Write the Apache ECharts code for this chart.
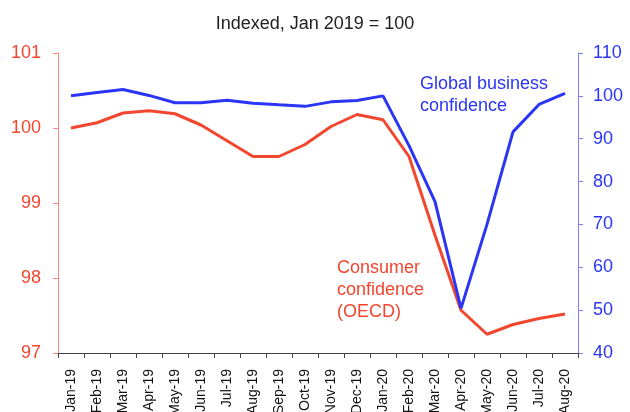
<!DOCTYPE html>
<html>
<head>
<meta charset="utf-8">
<script src="https://cdn.jsdelivr.net/npm/echarts@6/dist/echarts.min.js"></script>
<style>
  html, body { margin: 0; padding: 0; background: #fff; }
  #chart { width: 630px; height: 412px; }
</style>
</head>
<body>
<div id="chart"></div>
<script>
const months = ["Jan-19", "Feb-19", "Mar-19", "Apr-19", "May-19", "Jun-19", "Jul-19", "Aug-19", "Sep-19", "Oct-19",
  "Nov-19", "Dec-19", "Jan-20", "Feb-20", "Mar-20", "Apr-20", "May-20", "Jun-20", "Jul-20", "Aug-20"];
// consumer confidence (OECD), left axis
const consumer = [100.0, 100.07, 100.2, 100.23, 100.19, 100.04, 99.83, 99.62, 99.62, 99.78,
  100.02, 100.18, 100.11, 99.62, 98.57, 97.57, 97.25, 97.38, 97.46, 97.52];
// global business confidence, right axis
const business = [100.0, 100.8, 101.5, 100.1, 98.4, 98.4, 99.0, 98.3, 97.9, 97.55,
  98.6, 98.9, 100.0, 88.4, 75.3, 50.4, 70.0, 91.6, 98.0, 100.6];

const RED = "#f2462f";
const BLUE = "#2a35f5";
const FONT = "Liberation Sans, Arial, sans-serif";

const chart = echarts.init(document.getElementById("chart"));
const option = {
  animation: false,
  title: {
    text: "Indexed, Jan 2019 = 100",
    left: "center",
    top: 10,
    textStyle: { fontFamily: FONT, fontSize: 18, fontWeight: "normal", color: "#222" },
  },
  grid: { left: 58, right: 52, top: 53, bottom: 59, containLabel: false, outerBoundsMode: "none" },
  xAxis: {
    type: "category",
    data: months,
    boundaryGap: true,
    axisLine: { lineStyle: { color: "#444", width: 1 } },
    axisTick: { show: true, alignWithLabel: false, length: 5, lineStyle: { color: "#444" } },
    axisLabel: {
      rotate: 90,
      interval: 0,
      fontFamily: FONT,
      fontSize: 14,
      color: "#111",
      margin: 16,
    },
  },
  yAxis: [
    {
      type: "value",
      min: 97,
      max: 101,
      interval: 1,
      position: "left",
      splitLine: { show: false },
      axisLine: { show: true, lineStyle: { color: "#f98a7c", width: 1 } },
      axisTick: { show: true, length: 5, lineStyle: { color: "#f98a7c" } },
      axisLabel: { fontFamily: FONT, fontSize: 18, color: RED, margin: 17 },
    },
    {
      type: "value",
      min: 40,
      max: 110,
      interval: 10,
      position: "right",
      splitLine: { show: false },
      axisLine: { show: true, lineStyle: { color: "#7a80f8", width: 1 } },
      axisTick: { show: true, length: 5, lineStyle: { color: "#7a80f8" } },
      axisLabel: { fontFamily: FONT, fontSize: 18, color: BLUE, margin: 15 },
    },
  ],
  series: [
    {
      name: "Consumer confidence (OECD)",
      type: "line",
      yAxisIndex: 0,
      data: consumer,
      symbol: "none",
      lineStyle: { color: RED, width: 3 },
      z: 2,
    },
    {
      name: "Global business confidence",
      type: "line",
      yAxisIndex: 1,
      data: business,
      symbol: "none",
      lineStyle: { color: BLUE, width: 3 },
      z: 3,
    },
  ],
  graphic: [
    {
      type: "text",
      left: 420,
      top: 73,
      style: {
        text: "Global business\nconfidence",
        font: "18px " + FONT,
        fill: BLUE,
        lineHeight: 22,
      },
    },
    {
      type: "text",
      left: 337,
      top: 257,
      style: {
        text: "Consumer\nconfidence\n(OECD)",
        font: "18px " + FONT,
        fill: RED,
        lineHeight: 22,
      },
    },
  ],
};
chart.setOption(option);
</script>
</body>
</html>
